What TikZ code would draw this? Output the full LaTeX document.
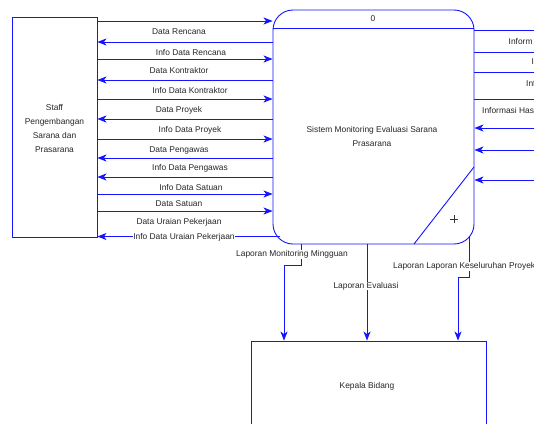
\documentclass[tikz,border=0pt]{standalone}
\usepackage{fontspec}
\setmainfont{Liberation Sans}
\usetikzlibrary{arrows.meta}
\definecolor{dfd}{RGB}{20,20,255}
\begin{document}
\begin{tikzpicture}[x=1pt,y=-1pt,
  every node/.style={font=\fontsize{8.4}{14}\selectfont, text=black!85},
  ln/.style={draw=dfd, line width=0.9pt},
  arr/.style={ln, -{Stealth[length=9pt,width=7pt,inset=2.5pt]}},
  lbl/.style={inner sep=0.5pt},
  wlbl/.style={inner sep=0.5pt, fill=white},
  entity/.style={draw=dfd, line width=0.9pt, inner sep=0pt},
]
\useasboundingbox (0,0) rectangle (534,423);
\clip (0,0) rectangle (534,423);
\fill[white] (0,0) rectangle (534,423);

% entities and process
\node[entity, minimum width=85pt, minimum height=220pt] (staff) at (54.5,127) {};
\node[align=center] (stafftxt) at (54.5,128) {Staff\\Pengembangan\\Sarana dan\\Prasarana};
\node[entity, rounded corners=20pt, minimum width=201pt, minimum height=234pt] (proc) at (373.5,127) {};
\draw[ln] (proc.west |- 0,28) -- (proc.east |- 0,28);
\node (pid) at (373,19) {0};
\node[align=center] (ptxt) at (372,136.5) {Sistem Monitoring Evaluasi Sarana\\Prasarana};
\coordinate (dtop) at (474,167);
\coordinate (dbot) at (414,244);
\draw[ln] (dtop) -- (dbot);
\draw[black!80, line width=0.5pt] (450,219) -- (458,219) (454,215) -- (454,223);
\node[entity, minimum width=235pt, minimum height=90pt] (kepala) at (368.5,386) {};
\node (ktxt) at (367,386) {Kepala Bidang};

% left flows
\foreach \y in {21,59,99,139,194,211}
  \draw[arr] (staff.east |- 0,\y) -- (proc.west |- 0,\y);
\foreach \y in {42,80,119,158,177}
  \draw[arr] (proc.west |- 0,\y) -- (staff.east |- 0,\y);
\coordinate (u1) at (280,236.5);
\draw[arr] (u1) -- (staff.east |- u1);

\node[lbl] (l1) at (179,32) {Data Rencana};
\node[lbl] (l2) at (191,52.5) {Info Data Rencana};
\node[lbl] (l3) at (179,70.5) {Data Kontraktor};
\node[lbl] (l4) at (190,90.5) {Info Data Kontraktor};
\node[lbl] (l5) at (179,110) {Data Proyek};
\node[lbl] (l6) at (190,130) {Info Data Proyek};
\node[lbl] (l7) at (179,150) {Data Pengawas};
\node[lbl] (l8) at (190,168.5) {Info Data Pengawas};
\node[lbl] (l9) at (191,187) {Info Data Satuan};
\node[lbl] (l10) at (179,204) {Data Satuan};
\node[lbl] (l11) at (179,222) {Data Uraian Pekerjaan};
\node[wlbl] (l12) at (184,237) {Info Data Uraian Pekerjaan};

% right flows (cut by the page edge)
\coordinate (redge) at (534,0);
\foreach \y in {30,52,72,99}
  \draw[ln] (proc.east |- 0,\y) -- (redge |- 0,\y);
\foreach \y in {128,150,180}
  \draw[arr] (redge |- 0,\y) -- (proc.east |- 0,\y);
\node[lbl, anchor=west] (r1) at (508,42) {Inform};
\node[lbl, anchor=west] (r2) at (531,62) {I};
\node[lbl, anchor=west] (r3) at (525.5,83) {Inf};
\node[lbl, anchor=west] (r4) at (481.5,110) {Informasi Has};

% bottom flows
\coordinate (m1) at (301,265);
\coordinate (m2) at (284,265);
\draw[arr] (proc.south -| m1) -- (m1) -- (m2) -- (kepala.north -| m2);
\node[wlbl] (b1) at (292,254.5) {Laporan Monitoring Mingguan};

\coordinate (e1) at (367,0);
\draw[arr] (proc.south -| e1) -- (kepala.north -| e1);
\node[wlbl] (b2) at (366,286) {Laporan Evaluasi};

\coordinate (k0) at (469,237);
\coordinate (k1) at (469,277.5);
\coordinate (k2) at (458,277.5);
\draw[arr] (k0) -- (k1) -- (k2) -- (kepala.north -| k2);
\node[wlbl, anchor=west] (b3) at (392.5,266.5) {Laporan Laporan Keseluruhan Proyek};
\end{tikzpicture}
\end{document}
